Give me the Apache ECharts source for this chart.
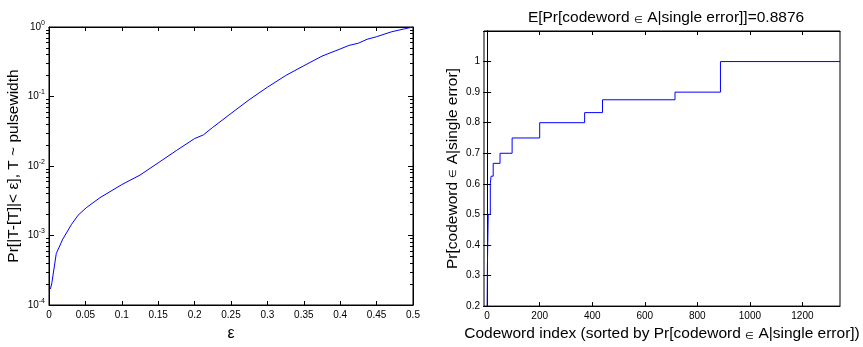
<!DOCTYPE html>
<html>
<head>
<meta charset="utf-8">
<script src="https://cdn.jsdelivr.net/npm/echarts@6/dist/echarts.min.js"></script>
<style>
  html, body { margin: 0; padding: 0; background: #fff; }
  #chart { width: 863px; height: 347px; }
</style>
</head>
<body>
<div id="chart"></div>
<script>
// left panel: Pr[|T-E[T]| < eps] on a log scale
const epsValues = [0.002, 0.004, 0.01, 0.019, 0.031, 0.04, 0.051, 0.07, 0.1, 0.125, 0.15, 0.175, 0.2, 0.212, 0.225, 0.25, 0.275, 0.3, 0.325, 0.35, 0.375, 0.4, 0.412, 0.425, 0.437, 0.45, 0.47, 0.488, 0.5];
const probValues = [1.7e-4, 2.1e-4, 5.5e-4, 8.9e-4, 1.45e-3, 1.96e-3, 2.5e-3, 3.5e-3, 5.4e-3, 7.4e-3, 0.0111, 0.0167, 0.0248, 0.028, 0.036, 0.057, 0.0898, 0.136, 0.2, 0.277, 0.381, 0.483, 0.543, 0.585, 0.666, 0.725, 0.85, 0.94, 1.0];
const logTicks = [1e-4, 1e-3, 1e-2, 1e-1, 1];

// right panel: sorted codeword probabilities (staircase)
const codewordIndex = [0, 1, 4, 12, 15, 23, 49, 95, 200, 371, 439, 715, 888, 1343];
const codewordProb = [0.2, 0.333, 0.5, 0.6, 0.625, 0.667, 0.7, 0.75, 0.8, 0.833, 0.875, 0.9, 1.0, 1.0];
const indexTicks = [0, 200, 400, 600, 800, 1000, 1200];

const FONT = "Liberation Sans";
const minorLogTicks = [];
for (let d = -4; d < 0; d++) {
  for (let k = 2; k <= 9; k++) minorLogTicks.push(k * Math.pow(10, d));
}

const chart = echarts.init(document.getElementById("chart"));

const tickStyle = { color: "#000", width: 1 };
const lineStyle = { show: true, lineStyle: { color: "#000", width: 1 } };
const labelStyle = { color: "#000", fontFamily: FONT, fontSize: 10 };
const smallIn = { s: { fontFamily: FONT, fontSize: 10, color: "#000", padding: [4, 0, 0, 0] } };

const option = {
  animation: false,
  title: {
    text: "E[Pr[codeword {s|∈} A|single error]]=0.8876",
    left: 661,
    top: 5,
    textAlign: "center",
    textStyle: {
      color: "#000", fontFamily: FONT, fontSize: 15.5, fontWeight: "normal",
      rich: smallIn
    }
  },
  grid: [
    { left: 49, top: 27, width: 364, height: 286, show: true, borderColor: "#000", borderWidth: 1 },
    { left: 484, top: 31, width: 356, height: 280, show: true, borderColor: "#000", borderWidth: 1 }
  ],
  xAxis: [
    {
      gridIndex: 0, type: "value", min: 0, max: 0.5, interval: 0.05,
      name: "ε", nameLocation: "middle", nameGap: 21,
      nameTextStyle: { color: "#000", fontFamily: FONT, fontSize: 16 },
      axisLine: lineStyle,
      axisTick: { inside: true, length: 4, lineStyle: tickStyle },
      axisLabel: Object.assign({ margin: 5 }, labelStyle),
      splitLine: { show: false }
    },
    {
      gridIndex: 0, type: "value", position: "top", min: 0, max: 0.5, interval: 0.05,
      axisLine: lineStyle,
      axisTick: { inside: true, length: 4, lineStyle: tickStyle },
      axisLabel: { show: false }, splitLine: { show: false }
    },
    {
      gridIndex: 1, type: "value", min: -12, max: 1343,
      name: "Codeword index (sorted by Pr[codeword {s|∈} A|single error])",
      nameLocation: "middle", nameGap: 18,
      nameTextStyle: { color: "#000", fontFamily: FONT, fontSize: 15.5, rich: smallIn },
      axisLine: lineStyle,
      axisTick: { inside: true, length: 4, lineStyle: tickStyle, customValues: indexTicks },
      axisLabel: Object.assign({ margin: 5, customValues: indexTicks, formatter: v => String(v) }, labelStyle),
      splitLine: { show: false }
    },
    {
      gridIndex: 1, type: "value", position: "top", min: -12, max: 1343,
      axisLine: lineStyle,
      axisTick: { inside: true, length: 4, lineStyle: tickStyle, customValues: indexTicks },
      axisLabel: { show: false }, splitLine: { show: false }
    }
  ],
  yAxis: [
    {
      gridIndex: 0, type: "log", logBase: 10, min: 1e-4, max: 1,
      name: "Pr[|T-[T]|< ε], T ~ pulsewidth", nameLocation: "middle", nameGap: 27,
      nameTextStyle: { color: "#000", fontFamily: FONT, fontSize: 15.5 },
      axisLine: lineStyle,
      axisTick: { inside: true, length: 5, lineStyle: tickStyle, customValues: logTicks },
      axisLabel: {
        margin: 4, customValues: logTicks,
        formatter: v => "10{sup|" + Math.round(Math.log10(v)) + "}",
        color: "#000", fontFamily: FONT, fontSize: 10,
        rich: { sup: { fontFamily: FONT, fontSize: 7, color: "#000", padding: [0, 0, 8, 0] } }
      },
      splitLine: { show: false }
    },
    {
      gridIndex: 0, type: "log", logBase: 10, min: 1e-4, max: 1,
      axisLine: { show: false },
      axisTick: { inside: true, length: 3, lineStyle: tickStyle, customValues: minorLogTicks },
      axisLabel: { show: false }, splitLine: { show: false }
    },
    {
      gridIndex: 0, type: "log", logBase: 10, min: 1e-4, max: 1, position: "right",
      axisLine: lineStyle,
      axisTick: { inside: true, length: 5, lineStyle: tickStyle, customValues: logTicks },
      axisLabel: { show: false }, splitLine: { show: false }
    },
    {
      gridIndex: 0, type: "log", logBase: 10, min: 1e-4, max: 1, position: "right",
      axisLine: { show: false },
      axisTick: { inside: true, length: 3, lineStyle: tickStyle, customValues: minorLogTicks },
      axisLabel: { show: false }, splitLine: { show: false }
    },
    {
      gridIndex: 1, type: "value", min: 0.2, max: 1.1, interval: 0.1,
      name: "Pr[codeword {s|∈} A|single error]", nameLocation: "middle", nameGap: 23,
      nameTextStyle: {
        color: "#000", fontFamily: FONT, fontSize: 15.5,
        rich: { s: { fontFamily: FONT, fontSize: 10, color: "#000" } }
      },
      axisLine: lineStyle,
      axisTick: { inside: true, length: 4, lineStyle: tickStyle },
      axisLabel: Object.assign({
        margin: 4,
        formatter: v => (v > 1.05 ? "" : (Math.abs(v - 1) < 1e-9 ? "1" : v.toFixed(1)))
      }, labelStyle),
      splitLine: { show: false }
    },
    {
      gridIndex: 1, type: "value", min: 0.2, max: 1.1, interval: 0.1, position: "right",
      axisLine: lineStyle,
      axisTick: { inside: true, length: 4, lineStyle: tickStyle },
      axisLabel: { show: false }, splitLine: { show: false }
    }
  ],
  series: [
    {
      type: "line", xAxisIndex: 0, yAxisIndex: 0,
      data: epsValues.map((e, i) => [e, probValues[i]]),
      showSymbol: false, lineStyle: { color: "#0000ff", width: 1 }
    },
    {
      type: "line", xAxisIndex: 2, yAxisIndex: 4, step: "end",
      data: codewordIndex.map((x, i) => [x, codewordProb[i]]),
      showSymbol: false, lineStyle: { color: "#0000ff", width: 1 }
    }
  ]
};

chart.setOption(option);
</script>
</body>
</html>
